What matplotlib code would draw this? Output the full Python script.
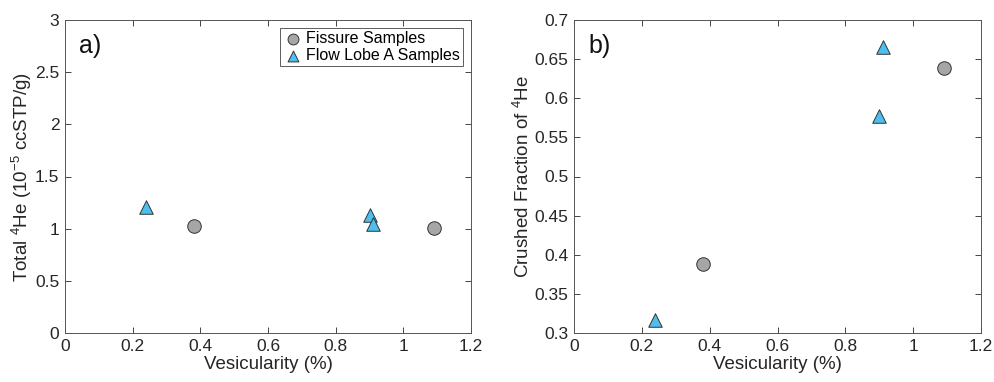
import matplotlib.pyplot as plt

plt.rcParams['font.family'] = ['Liberation Sans', 'DejaVu Sans']
plt.rcParams['mathtext.fontset'] = 'custom'
plt.rcParams['mathtext.rm'] = 'Liberation Sans'

# vesicularity (%) and helium data per sample group
fissure_ves = [0.38, 1.09]
fissure_total = [1.03, 1.005]
fissure_crushed = [0.388, 0.639]

lobe_ves = [0.24, 0.90, 0.91]
lobe_total = [1.21, 1.135, 1.04]
lobe_crushed = [0.316, 0.577, 0.665]

gray = '#A6A6A6'
blue = '#4DBEEE'
axcol = '#262626'

fig = plt.figure(figsize=(9.94, 3.82), dpi=100)
ax1 = fig.add_axes([65/994, 1 - 333/382, 406/994, 313/382])
ax2 = fig.add_axes([574/994, 1 - 333/382, 407/994, 313/382])


def style(ax):
    ax.tick_params(direction='in', top=True, right=True, labelsize=12.5,
                   colors=axcol, length=4, width=0.6, pad=4)
    for s in ax.spines.values():
        s.set_color('#555555')
        s.set_linewidth(0.7)
    ax.set_xlim(0, 1.2)
    ax.set_xticks([0, 0.2, 0.4, 0.6, 0.8, 1, 1.2])
    ax.set_xticklabels(['0', '0.2', '0.4', '0.6', '0.8', '1', '1.2'])
    ax.set_xlabel('Vesicularity (%)', fontsize=13.5, color=axcol, labelpad=2)


mk = dict(s=95, edgecolors='#333333', linewidths=0.7, zorder=3)

# a) total helium
ax1.scatter(fissure_ves, fissure_total, marker='o', c=gray, label='Fissure Samples', **mk)
ax1.scatter(lobe_ves, lobe_total, marker='^', c=blue, label='Flow Lobe A Samples', **mk)
style(ax1)
ax1.set_ylim(0, 3)
ax1.set_yticks([0, 0.5, 1, 1.5, 2, 2.5, 3])
ax1.set_yticklabels(['0', '0.5', '1', '1.5', '2', '2.5', '3'])
ax1.set_ylabel(r'Total $^{4}$He (10$^{-5}$ ccSTP/g)', fontsize=13.5, color=axcol, labelpad=1)
ax1.text(0.035, 0.955, 'a)', transform=ax1.transAxes, fontsize=18, va='top', color='#111111')
leg = ax1.legend(loc='upper right', fontsize=11.5, frameon=True, fancybox=False,
                 edgecolor='#333333', borderpad=0.2, handletextpad=0.2,
                 labelspacing=0.1, borderaxespad=0.5, handlelength=1.2,
                 markerscale=0.8)
leg.get_frame().set_linewidth(0.7)

# b) crushed fraction
ax2.scatter(fissure_ves, fissure_crushed, marker='o', c=gray, **mk)
ax2.scatter(lobe_ves, lobe_crushed, marker='^', c=blue, **mk)
style(ax2)
ax2.set_ylim(0.3, 0.7)
ax2.set_yticks([0.3, 0.35, 0.4, 0.45, 0.5, 0.55, 0.6, 0.65, 0.7])
ax2.set_yticklabels(['0.3', '0.35', '0.4', '0.45', '0.5', '0.55', '0.6', '0.65', '0.7'])
ax2.set_ylabel(r'Crushed Fraction of $^{4}$He', fontsize=13.5, color=axcol, labelpad=1)
ax2.text(0.035, 0.955, 'b)', transform=ax2.transAxes, fontsize=18, va='top', color='#111111')

fig.savefig('out.png', dpi=100)
